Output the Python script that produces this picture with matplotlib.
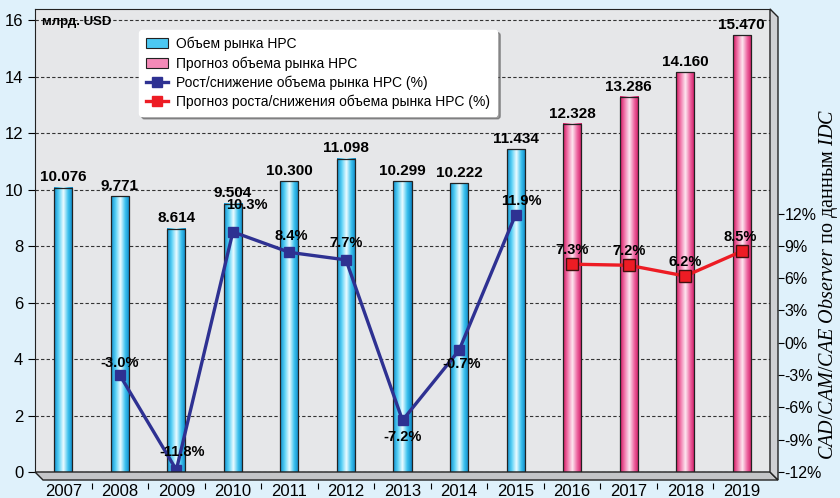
import numpy as np
import matplotlib
matplotlib.use('Agg')
import matplotlib.pyplot as plt
from matplotlib.colors import LinearSegmentedColormap
from matplotlib.patches import Patch, Polygon
from matplotlib.lines import Line2D

plt.rcParams['font.family'] = ['Liberation Sans', 'DejaVu Sans']
plt.rcParams['mathtext.fontset'] = 'custom'
plt.rcParams['mathtext.it'] = 'Liberation Serif:italic'
plt.rcParams['mathtext.rm'] = 'Liberation Serif'

# data
years = ['2007', '2008', '2009', '2010', '2011', '2012', '2013',
         '2014', '2015', '2016', '2017', '2018', '2019']
market = [10.076, 9.771, 8.614, 9.504, 10.300, 11.098, 10.299, 10.222, 11.434]
market_fc = [12.328, 13.286, 14.160, 15.470]
growth = [-3.0, -11.8, 10.3, 8.4, 7.7, -7.2, -0.7, 11.9]      # 2008..2015
growth_fc = [7.3, 7.2, 6.2, 8.5]                              # 2016..2019

# label offsets (points) for the % labels
g_off = [(0, 9), (4, 13), (10, 19), (1, 12), (0, 12), (0, -12), (2, -10), (4, 10)]
gf_off = [(0, 10), (0, 10), (0, 10), (-1, 10)]

blue_cm = LinearSegmentedColormap.from_list('b', ['#0b8fd0', '#5cd2f6', '#eefcff', '#3fc3ef', '#0b86c6'])
pink_cm = LinearSegmentedColormap.from_list('p', ['#d3155f', '#f27cae', '#fde8f1', '#ee68a3', '#cf1660'])

fig = plt.figure(figsize=(8.4, 4.98), dpi=100)
fig.patch.set_facecolor('#dff1fb')
W, H = 840, 498
x0, x1, yb, yt = 35, 770, 472, 9
ax = fig.add_axes([x0 / W, (H - yb) / H, (x1 - x0) / W, (yb - yt) / H])
ax.set_facecolor('#e6e7e9')

# 3D floor and right wall
d = 8
floor = Polygon([(x0 / W, (H - yb) / H), (x1 / W, (H - yb) / H), ((x1 + d) / W, (H - yb - d) / H),
                 ((x0 + d) / W, (H - yb - d) / H)], closed=True, transform=fig.transFigure,
                facecolor='#c4c5c8', edgecolor='#222222', lw=1.0, zorder=0)
wall = Polygon([(x1 / W, (H - yt) / H), ((x1 + d) / W, (H - yt - d) / H), ((x1 + d) / W, (H - yb - d) / H),
                (x1 / W, (H - yb) / H)], closed=True, transform=fig.transFigure,
               facecolor='#cfd0d3', edgecolor='#222222', lw=1.0, zorder=0)
fig.patches.extend([floor, wall])

x = np.arange(len(years))
w = 0.32
grad = np.linspace(0, 1, 64).reshape(1, -1)
vals = market + market_fc
for i, v in enumerate(vals):
    cm = blue_cm if i < len(market) else pink_cm
    ax.imshow(grad, extent=[x[i] - w / 2, x[i] + w / 2, 0, v], aspect='auto', cmap=cm, zorder=2)
    ax.text(x[i], v + 0.12, '%.3f' % v, ha='center', va='bottom', fontsize=11, fontweight='bold', zorder=5)
ax.bar(x, vals, width=w, facecolor='none', edgecolor='#222222', lw=0.9, zorder=3)

ax.set_xlim(-0.5, 12.5)
ax.set_ylim(0, 16.4)
ax.set_yticks(np.arange(0, 17, 2))
ax.tick_params(axis='y', labelsize=12, direction='out', length=5)
ax.yaxis.grid(True, ls='--', color='#333333', lw=0.8, dashes=(3, 2))
ax.set_axisbelow(True)
ax.set_xticks(x[:-1] + 0.5)
ax.set_xticklabels([])
ax.set_xticks(x, minor=True)
ax.set_xticklabels(years, minor=True)
ax.tick_params(axis='x', which='minor', length=0, labelsize=12, pad=0.5)
ax.tick_params(axis='x', which='major', length=4, direction='out')
ax.spines['bottom'].set_position(('outward', d))
ax.spines['bottom'].set_visible(False)
for s in ['left', 'top', 'right']:
    ax.spines[s].set_color('#222222')
ax.text(0.01, 0.985, 'млрд. USD', transform=ax.transAxes, ha='left', va='top', fontsize=9.5, fontweight='bold')

ax2 = ax.twinx()
ax2.set_ylim(-12, 31)
ax2.set_yticks(np.arange(-12, 13, 3))
ax2.set_yticklabels(['%d%%' % t for t in range(-12, 13, 3)])
ax2.tick_params(axis='y', labelsize=11.5, direction='out', length=4, pad=0.5)
ax2.spines['right'].set_position(('outward', 6))
ax2.spines['right'].set_visible(False)
for s in ['left', 'top', 'bottom']:
    ax2.spines[s].set_visible(False)

blue = '#2e3192'
red = '#ed1c24'
ax2.plot(x[1:9], growth, color=blue, lw=2.4, marker='s', ms=7, mfc=blue, mec=blue, zorder=6, clip_on=False)
ax2.plot(x[9:], growth_fc, color=red, lw=2.4, marker='s', ms=8, mfc=red, mec='#401010', zorder=6, clip_on=False)
for xi, g, off in zip(x[1:9], growth, g_off):
    ax2.annotate('%.1f%%' % g, (xi, g), xytext=off, textcoords='offset points', ha='center', va='center',
                 fontsize=10.5, fontweight='bold', zorder=7)
for xi, g, off in zip(x[9:], growth_fc, gf_off):
    ax2.annotate('%.1f%%' % g, (xi, g), xytext=off, textcoords='offset points', ha='center', va='center',
                 fontsize=10.5, fontweight='bold', zorder=7)

handles = [Patch(facecolor='#4cc8f2', edgecolor='#222222', lw=0.8),
           Patch(facecolor='#f48ab8', edgecolor='#222222', lw=0.8),
           Line2D([], [], color=blue, lw=2.4, marker='s', ms=7),
           Line2D([], [], color=red, lw=2.4, marker='s', ms=7)]
labels = ['Объем рынка НРС', 'Прогноз объема рынка НРС',
          'Рост/снижение объема рынка НРС (%)', 'Прогноз роста/снижения объема рынка НРС (%)']
leg = ax2.legend(handles, labels, loc='upper left', bbox_to_anchor=(0.132, 0.97), fontsize=10,
                 frameon=True, fancybox=True, shadow=True, handlelength=1.6, labelspacing=0.35,
                 handletextpad=0.6, borderpad=0.5, framealpha=1)
leg.get_frame().set_edgecolor('white')
leg.set_zorder(10)

fig.text(829 / W, (H - 284) / H, r'$\mathit{CAD/CAM/CAE\ Observer}$ по данным $\mathit{IDC}$', rotation=90,
         ha='center', va='center', fontsize=14.5, family='Liberation Serif')

fig.savefig('out.png', dpi=100, facecolor=fig.get_facecolor())
